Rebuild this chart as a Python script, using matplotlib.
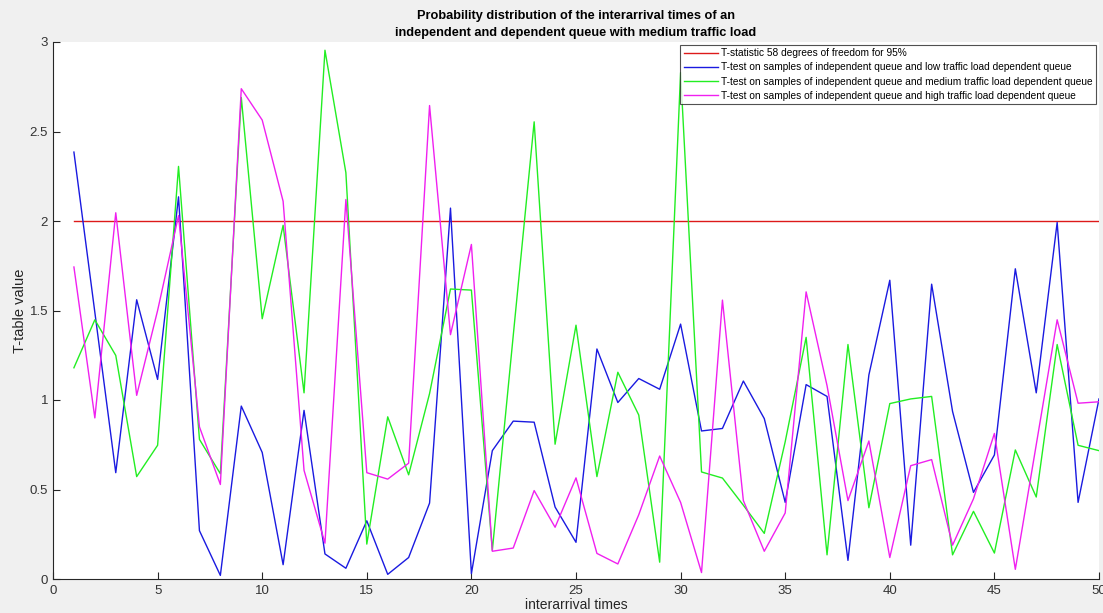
import matplotlib
matplotlib.use("Agg")
import matplotlib.pyplot as plt
import numpy as np

x = list(range(1, 51))

t_stat = [2.0] * 50

low_load = [2.385, 1.49, 0.594, 1.56, 1.115, 2.135, 0.27, 0.02, 0.966, 0.707,
            0.08, 0.942, 0.14, 0.06, 0.325, 0.026, 0.12, 0.424, 2.072, 0.03,
            0.717, 0.882, 0.876, 0.402, 0.205, 1.285, 0.986, 1.12, 1.06, 1.424,
            0.827, 0.841, 1.106, 0.896, 0.428, 1.086, 1.02, 0.104, 1.14, 1.669,
            0.189, 1.647, 0.936, 0.484, 0.693, 1.733, 1.04, 1.992, 0.428, 1.006]

medium_load = [1.18, 1.448, 1.249, 0.572, 0.747, 2.305, 0.78, 0.588, 2.69, 1.454,
               1.976, 1.04, 2.954, 2.27, 0.195, 0.906, 0.582, 1.036, 1.62, 1.614,
               0.16, 1.36, 2.554, 0.753, 1.418, 0.572, 1.155, 0.916, 0.094, 2.829,
               0.598, 0.564, 0.412, 0.255, 0.767, 1.35, 0.135, 1.31, 0.398, 0.98,
               1.006, 1.02, 0.135, 0.378, 0.145, 0.721, 0.458, 1.31, 0.747, 0.717]

high_load = [1.743, 0.90, 2.046, 1.026, 1.5, 2.03, 0.85, 0.528, 2.739, 2.564,
             2.11, 0.607, 0.2, 2.12, 0.594, 0.558, 0.647, 2.645, 1.365, 1.869,
             0.155, 0.173, 0.494, 0.289, 0.565, 0.143, 0.084, 0.359, 0.687, 0.428,
             0.036, 1.558, 0.438, 0.155, 0.369, 1.604, 1.08, 0.438, 0.771, 0.12,
             0.633, 0.667, 0.189, 0.448, 0.813, 0.054, 0.75, 1.448, 0.982, 0.99]

labels = [
    "T-statistic 58 degrees of freedom for 95%",
    "T-test on samples of independent queue and low traffic load dependent queue",
    "T-test on samples of independent queue and medium traffic load dependent queue",
    "T-test on samples of independent queue and high traffic load dependent queue",
]

plt.rcParams['font.family'] = ['Liberation Sans', 'DejaVu Sans']

fig = plt.figure(figsize=(11.03, 6.13), dpi=100, facecolor='#f0f0f0')
ax = fig.add_axes([53 / 1103, 34 / 613, (1099 - 53) / 1103, (579 - 42) / 613])
ax.set_facecolor('white')

lw = 1.0
ax.plot(x, t_stat, color='#dd1a1a', lw=lw, label=labels[0])
ax.plot(x, low_load, color='#1a1ae0', lw=lw, label=labels[1])
ax.plot(x, medium_load, color='#22ee22', lw=lw, label=labels[2])
ax.plot(x, high_load, color='#f020f0', lw=lw, label=labels[3])

ax.set_xlim(0, 50)
ax.set_ylim(0, 3)
ax.set_xticks(range(0, 51, 5))
ax.set_yticks([0, 0.5, 1, 1.5, 2, 2.5, 3])
ax.set_yticklabels(['0', '0.5', '1', '1.5', '2', '2.5', '3'])

for s in ['top', 'right']:
    ax.spines[s].set_visible(False)
for s in ['left', 'bottom']:
    ax.spines[s].set_color('#262626')
    ax.spines[s].set_linewidth(0.8)

ax.tick_params(direction='in', length=5, width=0.8, colors='#262626',
               labelsize=9.5, labelcolor='#333333')
ax.tick_params(axis='x', pad=4)

ax.set_xlabel('interarrival times', fontsize=10, color='#262626', labelpad=1)
ax.set_ylabel('T-table value', fontsize=10.5, color='#262626', labelpad=2)
ax.set_title('Probability distribution of the interarrival times of an\n'
             'independent and dependent queue with medium traffic load',
             fontsize=9.2, fontweight='bold', color='#000000', pad=4,
             linespacing=1.6)

leg = ax.legend(loc='upper right', fontsize=7.3, frameon=True, fancybox=False,
                edgecolor='#262626', handlelength=3.4, handletextpad=0.3,
                borderpad=0.35, labelspacing=0.42, borderaxespad=0.25)
leg.get_frame().set_linewidth(0.8)

fig.savefig('out.png', dpi=100, facecolor=fig.get_facecolor())
